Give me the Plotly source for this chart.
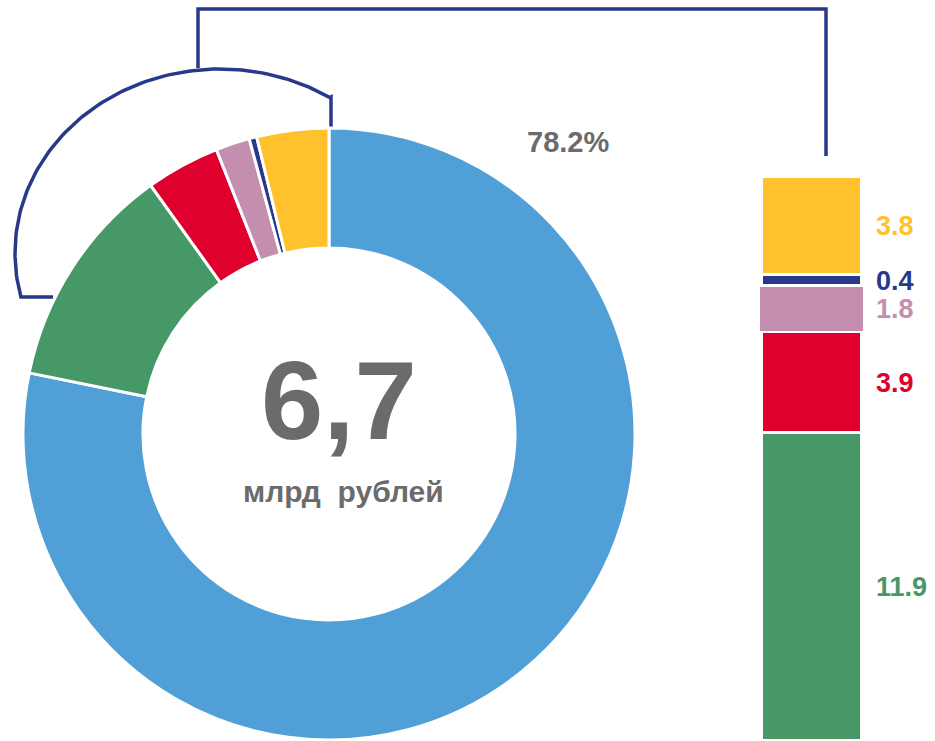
import numpy as np
import plotly.graph_objects as go

# ---- data ----
pie_labels = ["Основная часть", "Зелёный", "Красный", "Розовый", "Синий", "Жёлтый"]
pie_values = [78.2, 11.9, 3.9, 1.8, 0.4, 3.8]
pie_colors = ["#519FD7", "#469966", "#E0002D", "#C48FAE", "#28388A", "#FFC22D"]

bar_labels = ["Зелёный", "Красный", "Розовый", "Синий", "Жёлтый"]
bar_values = [11.9, 3.9, 1.8, 0.4, 3.8]
bar_colors = ["#469966", "#E0002D", "#C48FAE", "#28388A", "#FFC22D"]
bar_text = ["11.9", "3.9", "1.8", "0.4", "3.8"]

total_text = "6,7"
unit_text = "млрд\u00a0\u00a0рублей"
share_text = "78.2%"

W, H = 935, 741
GRAY = "#6B6B6B"
NAVY = "#28388A"
FONT = "Liberation Sans, Arial, sans-serif"

fig = go.Figure()

# donut
cx, cy, R = 329, 434, 306
fig.add_trace(go.Pie(
    labels=pie_labels, values=pie_values, sort=False, direction="clockwise",
    rotation=0, hole=0.608,
    marker=dict(colors=pie_colors, line=dict(color="white", width=3)),
    textinfo="none", hoverinfo="label+value", showlegend=False,
    domain=dict(x=[(cx - R) / W, (cx + R) / W], y=[(H - cy - R) / H, (H - cy + R) / H]),
))

# stacked bar
bar_x = 812
for lab, v, c in zip(bar_labels, bar_values, bar_colors):
    wide = lab == "Розовый"
    fig.add_trace(go.Bar(
        x=[bar_x], y=[v], name=lab, width=[104 if wide else 100],
        marker=dict(color=c, line=dict(color="white", width=1 if wide else 3)),
        xaxis="x", yaxis="y2", showlegend=False, hoverinfo="name+y",
    ))

# connector lines (decoration, in pixel coords)
t = np.radians(np.linspace(57.6, 193.8, 120))
ex = 220 + 205 * np.cos(t)
ey = 253 - 184 * np.sin(t)
arc_x = [331, 331] + list(ex) + [53]
arc_y = [128, 97] + list(ey) + [297]
fig.add_trace(go.Scatter(x=arc_x, y=arc_y, mode="lines", line=dict(color=NAVY, width=3.5),
                         xaxis="x", yaxis="y", showlegend=False, hoverinfo="skip"))
fig.add_trace(go.Scatter(x=[198, 198, 826, 826], y=[68, 9, 9, 156], mode="lines",
                         line=dict(color=NAVY, width=3.5), xaxis="x", yaxis="y",
                         showlegend=False, hoverinfo="skip"))

ann = []
cum = 0
for v, c, txt in zip(bar_values, bar_colors, bar_text):
    ann.append(dict(x=874, y=cum + v / 2, xref="x", yref="y2", text=txt, showarrow=False,
                    xanchor="left", yanchor="middle",
                    font=dict(family=FONT, size=27, color=c, weight="bold")))
    cum += v

ann.append(dict(x=568, y=142, xref="x", yref="y", text=share_text, showarrow=False,
                font=dict(family=FONT, size=29, color=GRAY, weight="bold")))
ann.append(dict(x=339, y=400, xref="x", yref="y", text=total_text, showarrow=False,
                font=dict(family=FONT, size=112, color=GRAY, weight="bold")))
ann.append(dict(x=343, y=491, xref="x", yref="y", text=unit_text, showarrow=False,
                font=dict(family=FONT, size=30, color=GRAY, weight="bold")))

px_per_unit = 25.87
fig.update_layout(
    width=W, height=H, margin=dict(l=0, r=0, t=0, b=0),
    paper_bgcolor="white", plot_bgcolor="rgba(0,0,0,0)",
    barmode="stack", bargap=0,
    xaxis=dict(range=[0, W], domain=[0, 1], visible=False, fixedrange=True),
    yaxis=dict(range=[H, 0], domain=[0, 1], visible=False, fixedrange=True),
    yaxis2=dict(range=[0, H / px_per_unit], overlaying="y", domain=[0, 1], visible=False,
                fixedrange=True),
    annotations=ann, showlegend=False,
)

fig.write_html(
    "out.html",
    config={"displayModeBar": False},
    post_script="document.body.style.margin='0';document.body.style.padding='0';"
                "document.documentElement.style.overflow='hidden';",
)
